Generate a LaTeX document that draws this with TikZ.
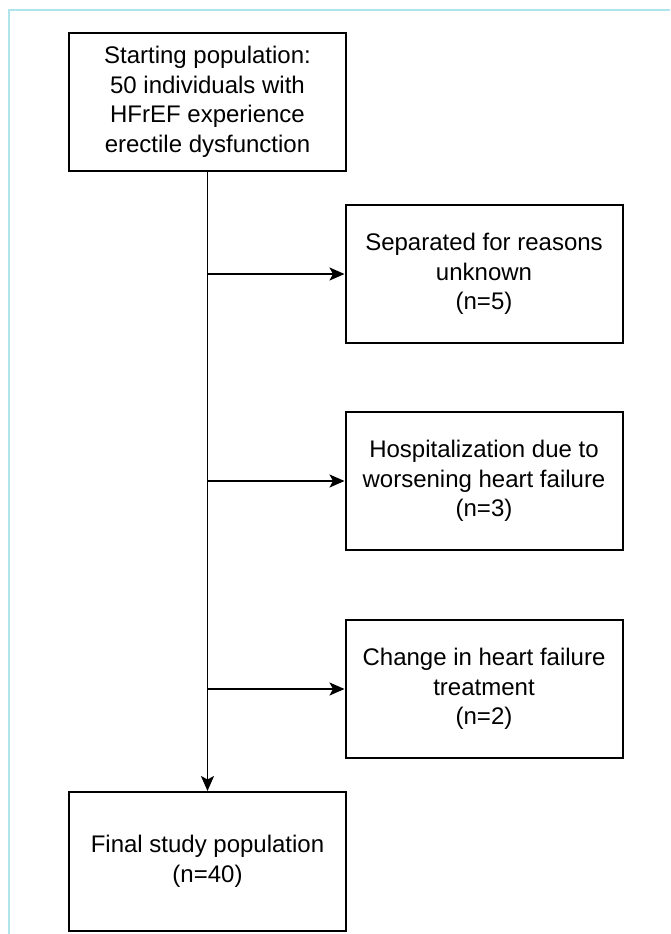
\documentclass[tikz,border=0pt]{standalone}
\usepackage{fontspec}
\setmainfont{Liberation Sans}
\usetikzlibrary{arrows.meta}
\definecolor{framecyan}{RGB}{174,228,234}

\begin{document}
\begin{tikzpicture}[x=1pt, y=-1pt,
  box/.style={draw, line width=2pt, minimum width=277pt, minimum height=138pt,
    inner sep=0pt, align=center, font=\fontsize{24}{29.5}\selectfont},
  flow/.style={line width=1.8pt, -{Stealth[length=15pt, width=13pt, inset=3.5pt]}}]
\useasboundingbox (0,0) rectangle (670,934);
% frame
\draw[framecyan, line width=2pt] (9,934) -- (9,10) -- (670,10);
% boxes
\node[box] (start) at (207.5,102) {Starting population:\\50 individuals with\\HFrEF experience\\erectile dysfunction};
\node[box] (unknown) at (484,274) {Separated for reasons\\unknown\\(n=5)};
\node[box] (hosp) at (484,481) {Hospitalization due to\\worsening heart failure\\(n=3)};
\node[box] (treat) at (484,689) {Change in heart failure\\treatment\\(n=2)};
\node[box, minimum height=139pt] (final) at (207.5,861.5) {Final study population\\(n=40)};
% connectors
\draw[flow] (start) -- (final);
\foreach \n in {unknown, hosp, treat}
  \draw[flow] (start.south |- \n.west) -- (\n.west);
\end{tikzpicture}
\end{document}
